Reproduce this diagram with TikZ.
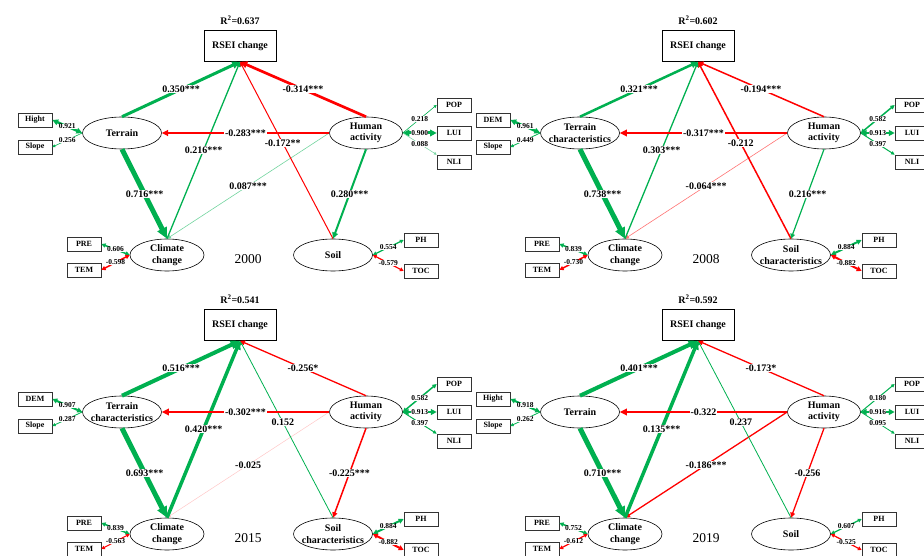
\documentclass[tikz,border=0pt]{standalone}
\usepackage{fontspec}
\setmainfont{Liberation Serif}
\usetikzlibrary{arrows.meta,shapes.geometric}
\definecolor{pgrn}{RGB}{0,176,80}
\definecolor{nred}{RGB}{255,0,0}
\tikzset{arr/.style={-{Triangle[length=3pt 1.6,width=3pt 1.4]}},
  onehead/.style={-{Triangle[length=2pt 1.5,width=2pt 1.5]}},
  twohead/.style={{Triangle[length=2pt 1.5,width=2pt 1.5]}-{Triangle[length=2pt 1.5,width=2pt 1.5]}},
  gline/.style={draw=pgrn, line width=#1},
  rline/.style={draw=nred, line width=#1},
  rsei/.style={draw, line width=0.6pt, minimum width=72pt, minimum height=31pt, inner sep=0pt, font=\bfseries\fontsize{10}{12}\selectfont},
  obs/.style={draw=black!80, line width=0.7pt, minimum width=34pt, minimum height=14pt, inner sep=0pt, font=\bfseries\fontsize{8}{8}\selectfont},
  lat/.style={ellipse, draw, line width=0.6pt, minimum width=#1, minimum height=32pt, inner sep=0pt},
  ltxt/.style={align=center, inner sep=0pt, font=\bfseries\fontsize{10}{11.5}\selectfont},
  coef/.style={fill=white, inner sep=0.8pt, font=\bfseries\fontsize{10}{10}\selectfont},
  load/.style={fill=white, inner sep=0.3pt, font=\bfseries\fontsize{7.5}{7.5}\selectfont},
  rsq/.style={font=\bfseries\fontsize{10}{10}\selectfont},
  yr/.style={font=\fontsize{13.5}{14}\selectfont}}

\begin{document}
\begin{tikzpicture}[x=1pt, y=-1pt]
  \useasboundingbox (0,0) rectangle (924,556);
  \clip (0,0) rectangle (924,556);
  % 2000
  \begin{scope}[name prefix=a-]
    \node[rsq] (r2) at (240,20) {R\textsuperscript{2}=0.637};
    \node[rsei] (rsei) at (240,46) {RSEI change};
    \node[lat=79pt, label={[ltxt]center:Terrain}] (terr) at (122,133) {};
    \node[lat=73pt, label={[ltxt]center:Human\\activity}] (hum) at (366,133) {};
    \node[lat=74pt, label={[ltxt]center:Climate\\change}] (clim) at (167,255) {};
    \node[lat=79pt, label={[ltxt]center:Soil}] (soil) at (333,255) {};
    \node[yr] (year) at (248,259) {2000};
    \node[obs] (hgt) at (35,120) {Hight};
    \node[obs] (slope) at (35,147) {Slope};
    \node[obs] (pre) at (84,244) {PRE};
    \node[obs] (tem) at (84,270) {TEM};
    \node[obs] (pop) at (454,105) {POP};
    \node[obs] (lui) at (454,133) {LUI};
    \node[obs] (nli) at (454,162) {NLI};
    \node[obs] (ph) at (421,240) {PH};
    \node[obs] (toc) at (421,271) {TOC};
    % loadings
    \draw[twohead, gline=2.5] (terr.west) -- node[load]{0.921} (hgt.east);
    \draw[onehead, gline=0.6] (terr.west) -- node[load]{0.256} (slope.east);
    \draw[twohead, gline=1.5] (clim.west) -- node[load]{0.606} (pre.east);
    \draw[twohead, rline=1.5] (clim.west) -- node[load]{-0.598} (tem.east);
    \draw[onehead, gline=0.6] (hum.east) -- node[load]{0.218} (pop.west);
    \draw[twohead, gline=3] (hum.east) -- node[load]{0.900} (lui.west);
    \draw[onehead, gline=0.5, draw=pgrn!55] (hum.east) -- node[load]{0.088} (nli.north west);
    \draw[twohead, gline=1.2] (soil.east) -- node[load]{0.554} (ph.west);
    \draw[twohead, rline=1.2] (soil.east) -- node[load]{-0.579} (toc.west);
    % paths
    \draw[arr, gline=0.6, draw=pgrn!55] (hum.west) -- node[coef]{0.087***} (clim.north);
    \draw[arr, rline=1] (soil.north) -- node[coef, pos=.54]{-0.172**} (rsei.south);
    \draw[arr, gline=1.3] (clim.north) -- node[coef]{0.216***} (rsei.south);
    \draw[arr, gline=3] (terr.north) -- node[coef]{0.350***} (rsei.south);
    \draw[arr, rline=2.7] (hum.north) -- node[coef]{-0.314***} (rsei.south);
    \draw[arr, rline=2] (hum.west) -- node[coef]{-0.283***} (terr.east);
    \draw[arr, gline=5] (terr.south) -- node[coef]{0.716***} (clim.north);
    \draw[arr, gline=2] (hum.south) -- node[coef]{0.280***} (soil.north);
  \end{scope}
  % 2008
  \begin{scope}[shift={(458,0)}, name prefix=b-]
    \node[rsq] (r2) at (240,20) {R\textsuperscript{2}=0.602};
    \node[rsei] (rsei) at (240,46) {RSEI change};
    \node[lat=79pt, label={[ltxt]center:Terrain\\characteristics}] (terr) at (122,133) {};
    \node[lat=73pt, label={[ltxt]center:Human\\activity}] (hum) at (366,133) {};
    \node[lat=74pt, label={[ltxt]center:Climate\\change}] (clim) at (167,255) {};
    \node[lat=79pt, label={[ltxt]center:Soil\\characteristics}] (soil) at (333,255) {};
    \node[yr] (year) at (248,259) {2008};
    \node[obs] (dem) at (35,120) {DEM};
    \node[obs] (slope) at (35,147) {Slope};
    \node[obs] (pre) at (84,244) {PRE};
    \node[obs] (tem) at (84,270) {TEM};
    \node[obs] (pop) at (454,105) {POP};
    \node[obs] (lui) at (454,133) {LUI};
    \node[obs] (nli) at (454,162) {NLI};
    \node[obs] (ph) at (421,240) {PH};
    \node[obs] (toc) at (421,271) {TOC};
    % loadings
    \draw[twohead, gline=2.5] (terr.west) -- node[load]{0.961} (dem.east);
    \draw[onehead, gline=0.8] (terr.west) -- node[load]{0.449} (slope.east);
    \draw[twohead, gline=1.5] (clim.west) -- node[load]{0.839} (pre.east);
    \draw[twohead, rline=1.5] (clim.west) -- node[load]{-0.730} (tem.east);
    \draw[twohead, gline=1.5] (hum.east) -- node[load]{0.582} (pop.west);
    \draw[twohead, gline=2.5] (hum.east) -- node[load]{0.913} (lui.west);
    \draw[onehead, gline=1] (hum.east) -- node[load]{0.397} (nli.north west);
    \draw[twohead, gline=2] (soil.east) -- node[load]{0.884} (ph.west);
    \draw[twohead, rline=2] (soil.east) -- node[load]{-0.882} (toc.west);
    % paths
    \draw[arr, rline=0.6, draw=nred!55] (hum.west) -- node[coef]{-0.064***} (clim.north);
    \draw[arr, rline=1.5] (soil.north) -- node[coef, pos=.54]{-0.212} (rsei.south);
    \draw[arr, gline=1.3] (clim.north) -- node[coef]{0.303***} (rsei.south);
    \draw[arr, gline=2.5] (terr.north) -- node[coef]{0.321***} (rsei.south);
    \draw[arr, rline=1.5] (hum.north) -- node[coef]{-0.194***} (rsei.south);
    \draw[arr, rline=2.5] (hum.west) -- node[coef]{-0.317***} (terr.east);
    \draw[arr, gline=5] (terr.south) -- node[coef]{0.738***} (clim.north);
    \draw[arr, gline=1.2] (hum.south) -- node[coef]{0.216***} (soil.north);
  \end{scope}
  % 2015
  \begin{scope}[shift={(0,279)}, name prefix=c-]
    \node[rsq] (r2) at (240,20) {R\textsuperscript{2}=0.541};
    \node[rsei] (rsei) at (240,46) {RSEI change};
    \node[lat=79pt, label={[ltxt]center:Terrain\\characteristics}] (terr) at (122,133) {};
    \node[lat=73pt, label={[ltxt]center:Human\\activity}] (hum) at (366,133) {};
    \node[lat=74pt, label={[ltxt]center:Climate\\change}] (clim) at (167,255) {};
    \node[lat=79pt, label={[ltxt]center:Soil\\characteristics}] (soil) at (333,255) {};
    \node[yr] (year) at (248,259) {2015};
    \node[obs] (dem) at (35,120) {DEM};
    \node[obs] (slope) at (35,147) {Slope};
    \node[obs] (pre) at (84,244) {PRE};
    \node[obs] (tem) at (84,270) {TEM};
    \node[obs] (pop) at (454,105) {POP};
    \node[obs] (lui) at (454,133) {LUI};
    \node[obs] (nli) at (454,162) {NLI};
    \node[obs] (ph) at (421,240) {PH};
    \node[obs] (toc) at (421,271) {TOC};
    % loadings
    \draw[twohead, gline=2] (terr.west) -- node[load]{0.907} (dem.east);
    \draw[onehead, gline=0.8] (terr.west) -- node[load]{0.287} (slope.east);
    \draw[twohead, gline=1.5] (clim.west) -- node[load]{0.839} (pre.east);
    \draw[twohead, rline=1] (clim.west) -- node[load]{-0.563} (tem.east);
    \draw[twohead, gline=1.5] (hum.east) -- node[load]{0.582} (pop.west);
    \draw[twohead, gline=2.5] (hum.east) -- node[load]{0.913} (lui.west);
    \draw[onehead, gline=1] (hum.east) -- node[load]{0.397} (nli.north west);
    \draw[twohead, gline=2] (soil.east) -- node[load]{0.884} (ph.west);
    \draw[twohead, rline=2] (soil.east) -- node[load]{-0.882} (toc.west);
    % paths
    \draw[arr, rline=0.5, draw=nred!22] (hum.west) -- node[coef]{-0.025} (clim.north);
    \draw[arr, gline=0.8] (soil.north) -- node[coef, pos=.54]{0.152} (rsei.south);
    \draw[arr, gline=3.5] (clim.north) -- node[coef]{0.420***} (rsei.south);
    \draw[arr, gline=4] (terr.north) -- node[coef]{0.516***} (rsei.south);
    \draw[arr, rline=1.3] (hum.north) -- node[coef]{-0.256*} (rsei.south);
    \draw[arr, rline=2.5] (hum.west) -- node[coef]{-0.302***} (terr.east);
    \draw[arr, gline=5] (terr.south) -- node[coef]{0.693***} (clim.north);
    \draw[arr, rline=1.5] (hum.south) -- node[coef]{-0.225***} (soil.north);
  \end{scope}
  % 2019
  \begin{scope}[shift={(458,279)}, name prefix=d-]
    \node[rsq] (r2) at (240,20) {R\textsuperscript{2}=0.592};
    \node[rsei] (rsei) at (240,46) {RSEI change};
    \node[lat=79pt, label={[ltxt]center:Terrain}] (terr) at (122,133) {};
    \node[lat=73pt, label={[ltxt]center:Human\\activity}] (hum) at (366,133) {};
    \node[lat=74pt, label={[ltxt]center:Climate\\change}] (clim) at (167,255) {};
    \node[lat=79pt, label={[ltxt]center:Soil}] (soil) at (333,255) {};
    \node[yr] (year) at (248,259) {2019};
    \node[obs] (hgt) at (35,120) {Hight};
    \node[obs] (slope) at (35,147) {Slope};
    \node[obs] (pre) at (84,244) {PRE};
    \node[obs] (tem) at (84,270) {TEM};
    \node[obs] (pop) at (454,105) {POP};
    \node[obs] (lui) at (454,133) {LUI};
    \node[obs] (nli) at (454,162) {NLI};
    \node[obs] (ph) at (421,240) {PH};
    \node[obs] (toc) at (421,271) {TOC};
    % loadings
    \draw[twohead, gline=2] (terr.west) -- node[load]{0.918} (hgt.east);
    \draw[onehead, gline=0.8] (terr.west) -- node[load]{0.262} (slope.east);
    \draw[twohead, gline=1.5] (clim.west) -- node[load]{0.752} (pre.east);
    \draw[twohead, rline=1.2] (clim.west) -- node[load]{-0.612} (tem.east);
    \draw[onehead, gline=1] (hum.east) -- node[load]{0.180} (pop.west);
    \draw[twohead, gline=2.5] (hum.east) -- node[load]{0.916} (lui.west);
    \draw[onehead, gline=0.8] (hum.east) -- node[load]{0.095} (nli.north west);
    \draw[twohead, gline=1.2] (soil.east) -- node[load]{0.607} (ph.west);
    \draw[twohead, rline=1.2] (soil.east) -- node[load]{-0.525} (toc.west);
    % paths
    \draw[arr, rline=1.3] (hum.west) -- node[coef]{-0.186***} (clim.north);
    \draw[arr, gline=0.8] (soil.north) -- node[coef, pos=.54]{0.237} (rsei.south);
    \draw[arr, gline=3.5] (clim.north) -- node[coef]{0.135***} (rsei.south);
    \draw[arr, gline=4] (terr.north) -- node[coef]{0.401***} (rsei.south);
    \draw[arr, rline=1.3] (hum.north) -- node[coef]{-0.173*} (rsei.south);
    \draw[arr, rline=2.5] (hum.west) -- node[coef]{-0.322} (terr.east);
    \draw[arr, gline=5] (terr.south) -- node[coef]{0.710***} (clim.north);
    \draw[arr, rline=1.3] (hum.south) -- node[coef]{-0.256} (soil.north);
  \end{scope}
\end{tikzpicture}
\end{document}
